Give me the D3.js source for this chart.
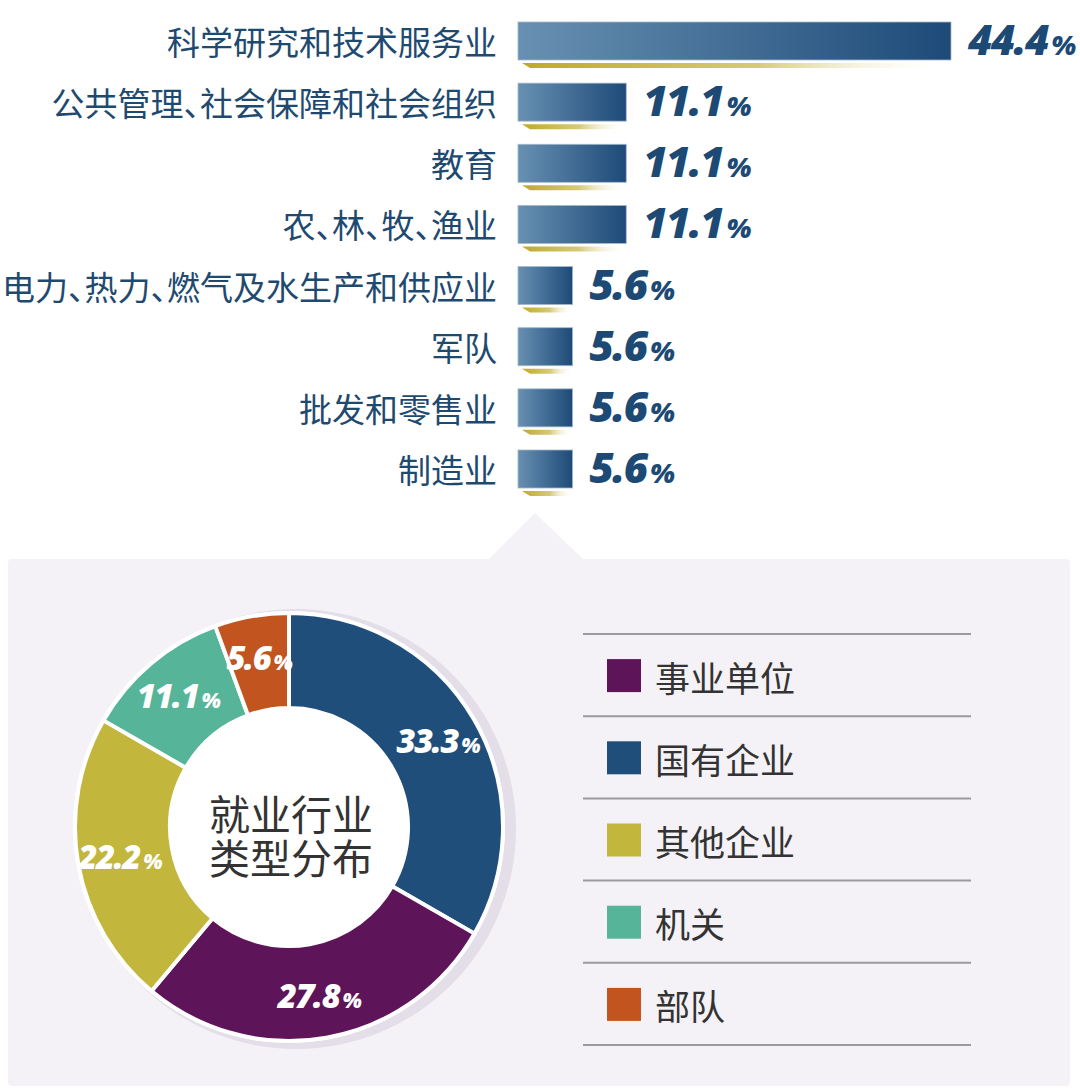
<!DOCTYPE html>
<html>
<head>
<meta charset="utf-8">
<script src="https://cdn.jsdelivr.net/npm/d3@7"></script>
<style>
  html, body { margin: 0; padding: 0; background: #fff; }
  svg { display: block; }
  .cat { font-feature-settings: "halt" 1; }
</style>
</head>
<body>
<script>
// industry bars (top part)
const industries = ['科学研究和技术服务业', '公共管理、社会保障和社会组织', '教育', '农、林、牧、渔业',
  '电力、热力、燃气及水生产和供应业', '军队', '批发和零售业', '制造业'];
const industryValues = [44.4, 11.1, 11.1, 11.1, 5.6, 5.6, 5.6, 5.6];

// employer type donut, clockwise from 12 o'clock
const typeNames = ['国有企业', '事业单位', '其他企业', '机关', '部队'];
const typeValues = [33.3, 27.8, 22.2, 11.1, 5.6];
const typeColors = ['#1f4e7b', '#5e1458', '#c3b63d', '#56b498', '#c1541f'];
// legend goes in a different order than the ring
const legendOrder = ['事业单位', '国有企业', '其他企业', '机关', '部队'];
const centerTitle = ['就业行业', '类型分布'];

const W = 1080, H = 1090;
const cjk = '"Noto Sans CJK SC", "Noto Sans", sans-serif';
const num = '"Open Sans", "Noto Sans", sans-serif';

const svg = d3.select('body').append('svg')
  .attr('width', W)
  .attr('height', H);

const defs = svg.append('defs');
const barGrad = defs.append('linearGradient').attr('id', 'barGrad');
barGrad.append('stop').attr('offset', '0%').attr('stop-color', '#6890b2');
barGrad.append('stop').attr('offset', '100%').attr('stop-color', '#1d4a78');
const lineGrad = defs.append('linearGradient').attr('id', 'lineGrad');
lineGrad.append('stop').attr('offset', '0%').attr('stop-color', '#bfa92a');
lineGrad.append('stop').attr('offset', '55%').attr('stop-color', '#d6ca78');
lineGrad.append('stop').attr('offset', '100%').attr('stop-color', '#ffffff').attr('stop-opacity', 0);

// ---- bar chart ----
const barX0 = 518, barH = 38;
const x = d3.scaleLinear().domain([0, 44.4]).range([0, 433]);
const y = d3.scalePoint().domain(industries).range([41, 469]);
const rows = industries.map((name, i) => ({ name: name, value: industryValues[i] }));

const bars = svg.append('g');
const row = bars.selectAll('g.row')
  .data(rows)
  .enter()
  .append('g')
  .attr('class', 'row')
  .attr('transform', d => 'translate(0,' + y(d.name) + ')');

row.append('text')
  .attr('class', 'cat')
  .attr('x', barX0 - 21)
  .attr('y', 0)
  .attr('text-anchor', 'end')
  .attr('dominant-baseline', 'central')
  .attr('font-family', cjk)
  .attr('font-size', 33)
  .attr('fill', '#1f4a70')
  .text(d => d.name);

// yellow strip under each bar
row.append('path')
  .attr('d', d => {
    const w = x(d.value), t = barH / 2 + 3;
    return 'M' + (barX0 + 4) + ',' + t + 'L' + (barX0 + w) + ',' + t +
      'L' + (barX0 + w) + ',' + (t + 5) + 'L' + (barX0 + 12) + ',' + (t + 5) + 'Z';
  })
  .attr('fill', 'url(#lineGrad)');

row.append('rect')
  .attr('x', barX0)
  .attr('y', -barH / 2)
  .attr('width', d => x(d.value))
  .attr('height', barH)
  .attr('fill', 'url(#barGrad)')
  .attr('stroke', '#a3b8cc')
  .attr('stroke-width', 0.8);

const val = row.append('text')
  .attr('x', d => barX0 + x(d.value) + 17)
  .attr('y', 14)
  .attr('font-family', num)
  .attr('font-weight', 800)
  .attr('font-style', 'italic')
  .attr('fill', '#1d4a74')
  .attr('letter-spacing', -1.5);
val.append('tspan').attr('font-size', 42).text(d => d.value.toFixed(1));
val.append('tspan').attr('font-size', 27).attr('dx', 3).text('%');

// ---- lower panel ----
const panel = svg.append('g');
panel.append('rect')
  .attr('x', 8).attr('y', 559)
  .attr('width', 1062).attr('height', 527)
  .attr('rx', 4)
  .attr('fill', '#f5f2f7');
panel.append('path')
  .attr('d', 'M488,560L535,513L584,560Z')
  .attr('fill', '#f5f2f7');

// ---- donut ----
const cx = 289, cy = 827, rOut = 214, rIn = 119;
const slices = typeNames.map((name, i) => ({ name: name, value: typeValues[i], color: typeColors[i] }));
const pie = d3.pie().sort(null).value(d => d.value);
const arc = d3.arc().innerRadius(rIn).outerRadius(rOut);
const labelArc = d3.arc().innerRadius(172).outerRadius(172);

const donut = svg.append('g').attr('transform', 'translate(' + cx + ',' + cy + ')');
donut.append('circle')
  .attr('cx', 7).attr('cy', 2)
  .attr('r', rOut + 6)
  .attr('fill', '#e3dee7');
donut.append('circle')
  .attr('r', rOut + 2)
  .attr('fill', '#fff');
donut.append('circle')
  .attr('r', rIn)
  .attr('fill', '#fff');

const arcs = pie(slices);
donut.selectAll('path.slice')
  .data(arcs)
  .enter()
  .append('path')
  .attr('class', 'slice')
  .attr('d', arc)
  .attr('fill', d => d.data.color)
  .attr('stroke', '#fff')
  .attr('stroke-width', 4)
  .attr('stroke-linejoin', 'round');

const pct = donut.selectAll('text.pct')
  .data(arcs)
  .enter()
  .append('text')
  .attr('class', 'pct')
  .attr('transform', d => 'translate(' + labelArc.centroid(d) + ')')
  .attr('y', 12)
  .attr('text-anchor', 'middle')
  .attr('font-family', num)
  .attr('font-weight', 800)
  .attr('font-style', 'italic')
  .attr('fill', '#fff')
  .attr('letter-spacing', -1.5);
pct.append('tspan').attr('font-size', 33).text(d => d.data.value.toFixed(1));
pct.append('tspan').attr('font-size', 21).attr('dx', 3).text('%');

// two-line title in the hole, one text element
const title = donut.append('text')
  .attr('class', 'title')
  .attr('text-anchor', 'middle')
  .attr('font-family', cjk)
  .attr('font-size', 41)
  .attr('fill', '#333');
title.selectAll('tspan')
  .data(centerTitle)
  .enter()
  .append('tspan')
  .attr('x', 2)
  .attr('y', (d, i) => 3 + i * 44)
  .text(d => d);

// ---- legend ----
const lx0 = 583, lx1 = 971, ly0 = 634, lstep = 82.2;
const colorOf = d3.scaleOrdinal().domain(typeNames).range(typeColors);
const legend = svg.append('g');
legend.selectAll('line')
  .data(d3.range(legendOrder.length + 1))
  .enter()
  .append('line')
  .attr('x1', lx0).attr('x2', lx1)
  .attr('y1', d => ly0 + d * lstep)
  .attr('y2', d => ly0 + d * lstep)
  .attr('stroke', '#9c999f')
  .attr('stroke-width', 2);

const item = legend.selectAll('g.item')
  .data(legendOrder)
  .enter()
  .append('g')
  .attr('class', 'item')
  .attr('transform', (d, i) => 'translate(0,' + (ly0 + lstep * (i + 0.5)) + ')');
item.append('rect')
  .attr('x', 607).attr('y', -16)
  .attr('width', 34).attr('height', 33)
  .attr('fill', d => colorOf(d));
item.append('text')
  .attr('x', 655)
  .attr('y', 1)
  .attr('dominant-baseline', 'central')
  .attr('font-family', cjk)
  .attr('font-size', 35)
  .attr('fill', '#333')
  .text(d => d);
</script>
</body>
</html>
